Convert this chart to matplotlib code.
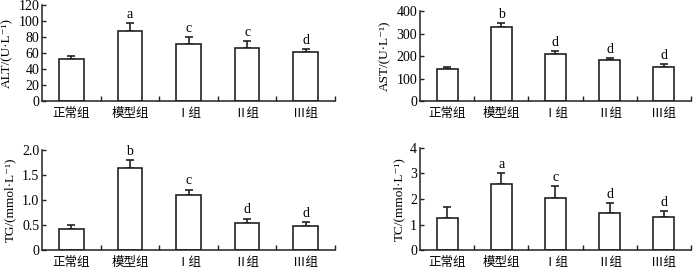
import matplotlib
matplotlib.use("Agg")
import matplotlib.pyplot as plt
from matplotlib.ticker import FuncFormatter

plt.rcParams['font.family'] = ['Liberation Serif', 'Noto Sans CJK SC', 'DejaVu Serif']
plt.rcParams['font.size'] = 8.5

groups = ['正常组', '模型组', 'Ⅰ组', 'Ⅱ组', 'Ⅲ组']

alt_mean = [52.5, 88, 71, 66.5, 61]
alt_err = [4, 9.5, 8.5, 8.5, 4]
alt_sig = ['', 'a', 'c', 'c', 'd']

ast_mean = [141, 330, 209, 181, 152]
ast_err = [11, 18, 12, 11, 11]
ast_sig = ['', 'b', 'd', 'd', 'd']

tg_mean = [0.43, 1.64, 1.11, 0.55, 0.49]
tg_err = [0.08, 0.17, 0.10, 0.08, 0.07]
tg_sig = ['', 'b', 'c', 'd', 'd']

tc_mean = [1.26, 2.59, 2.04, 1.47, 1.30]
tc_err = [0.43, 0.44, 0.47, 0.36, 0.22]
tc_sig = ['', 'a', 'c', 'd', 'd']

panels = [
    dict(mean=alt_mean, err=alt_err, sig=alt_sig, ylabel='ALT/(U·L⁻¹)',
         ylim=(0, 120), yticks=[0, 20, 40, 60, 80, 100, 120],
         rect=[0.06, 0.626, 0.4186, 0.355], bw=0.42),
    dict(mean=ast_mean, err=ast_err, sig=ast_sig, ylabel='AST/(U·L⁻¹)',
         ylim=(0, 400), yticks=[0, 100, 200, 300, 400],
         rect=[0.60, 0.626, 0.387, 0.333], bw=0.39),
    dict(mean=tg_mean, err=tg_err, sig=tg_sig, ylabel='TG/(mmol·L⁻¹)',
         ylim=(0, 2.0), yticks=[0, 0.5, 1.0, 1.5, 2.0],
         rect=[0.06, 0.074, 0.4186, 0.370], bw=0.42),
    dict(mean=tc_mean, err=tc_err, sig=tc_sig, ylabel='TC/(mmol·L⁻¹)',
         ylim=(0, 4), yticks=[0, 1, 2, 3, 4],
         rect=[0.60, 0.074, 0.387, 0.378], bw=0.39),
]

fig = plt.figure(figsize=(7, 2.7), dpi=100)
lc = '#222222'

def fmt_tg(v, pos):
    return '0' if v == 0 else f'{v:.1f}'

for i, p in enumerate(panels):
    ax = fig.add_axes(p['rect'])
    x = [k + 0.5 for k in range(len(groups))]
    ax.bar(x, p['mean'], width=p['bw'], color='white', edgecolor=lc, linewidth=1.2, zorder=2)
    ax.errorbar(x, p['mean'], yerr=[[0] * 5, p['err']], fmt='none', ecolor=lc,
                elinewidth=1.2, capsize=3.2, capthick=1.2, zorder=1)
    for xi, m, e, s in zip(x, p['mean'], p['err'], p['sig']):
        if s:
            ax.annotate(s, (xi, m + e), xytext=(0, 1.5), textcoords='offset points',
                        ha='center', va='bottom', fontsize=10)
    ax.set_xlim(0, 5)
    ax.set_ylim(*p['ylim'])
    ax.set_yticks(p['yticks'])
    if i == 2:
        ax.yaxis.set_major_formatter(FuncFormatter(fmt_tg))
    ax.set_xticks([1, 2, 3, 4, 5])
    ax.set_xticklabels([])
    ax.set_xticks(x, minor=True)
    ax.set_xticklabels(groups, minor=True)
    ax.tick_params(axis='x', which='major', direction='in', length=3.5, width=1.0, color=lc)
    ax.tick_params(axis='x', which='minor', length=0, pad=5, labelsize=9)
    ax.tick_params(axis='y', direction='in', length=3, width=1.0, color=lc, pad=2, labelsize=10)
    for sp in ['top', 'right']:
        ax.spines[sp].set_visible(False)
    for sp in ['left', 'bottom']:
        ax.spines[sp].set_linewidth(1.1)
        ax.spines[sp].set_color(lc)
    ax.set_ylabel(p['ylabel'], fontsize=9.5, labelpad=4)

fig.savefig('out.png', dpi=100)
